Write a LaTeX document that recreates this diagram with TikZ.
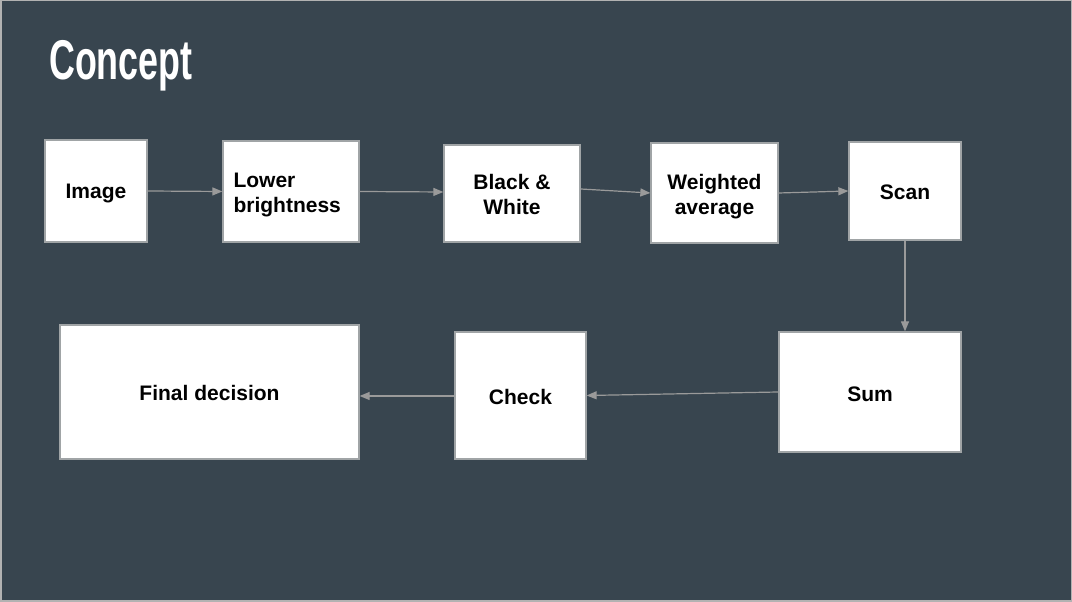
\documentclass[tikz,border=0pt]{standalone}
\usepackage{fontspec}
\setmainfont{Liberation Sans}
\usetikzlibrary{arrows.meta}
\definecolor{bg}{HTML}{38454F}
\definecolor{boxborder}{HTML}{A0A4A6}
\definecolor{arrowgray}{HTML}{9A9A9A}
\begin{document}
\begin{tikzpicture}[x=1pt,y=1pt,
  stepbox/.style={draw=boxborder, line width=1.3pt, fill=white, inner sep=0pt},
  steptext/.style={inner sep=0pt, font=\fontsize{21}{25}\selectfont\bfseries, text=black, align=center},
  flow/.style={draw=arrowgray, line width=1.2pt, -{Triangle[length=10pt,width=8pt]}}]
\fill[bg] (0,0) rectangle (1072,602);
\draw[gray!60, line width=1.5pt] (0.75,0.75) rectangle (1071.25,601.25);
\useasboundingbox (0,0) rectangle (1072,602);
\node[anchor=base west, text=white, font=\fontsize{56}{60}\selectfont\bfseries, inner sep=0pt] (title) at (49,522) {\scalebox{0.64}[1]{Concept}};
\node[stepbox, minimum width=102pt, minimum height=102pt] (img) at (96,411) {};
\node[stepbox, minimum width=136pt, minimum height=101pt] (low) at (291,410.5) {};
\node[stepbox, minimum width=136pt, minimum height=97pt] (bw) at (512,408.5) {};
\node[stepbox, minimum width=127pt, minimum height=100pt] (wa) at (714.5,409) {};
\node[stepbox, minimum width=112pt, minimum height=98pt] (scan) at (905,411) {};
\node[stepbox, minimum width=182pt, minimum height=120pt] (sum) at (870,210) {};
\node[stepbox, minimum width=131pt, minimum height=127pt] (check) at (520.5,206.5) {};
\node[stepbox, minimum width=299pt, minimum height=134pt] (final) at (209.5,210) {};
\node[steptext] (imgt) at ([yshift=-3pt]img.center) {Image};
\node[steptext, align=left, anchor=west] (lowt) at ([xshift=11pt,yshift=-4pt]low.west) {Lower\\brightness};
\node[steptext] (bwt) at ([yshift=-1.5pt]bw.center) {Black \&\\White};
\node[steptext] (wat) at ([yshift=-4pt]wa.center) {Weighted\\average};
\node[steptext] (scant) at ([yshift=-1pt]scan.center) {Scan};
\node[steptext] (sumt) at ([yshift=-2pt]sum.center) {Sum};
\node[steptext] (checkt) at ([yshift=-1pt]check.center) {Check};
\node[steptext] (finalt) at ([yshift=-1pt]final.center) {Final decision};
\draw[flow] (img.east) -- (low.west);
\draw[flow] (low.east) -- ([yshift=1.5pt]bw.west);
\draw[flow] ([yshift=4.5pt]bw.east) -- (wa.west);
\draw[flow] (wa.east) -- (scan.west);
\draw[flow] (scan.south) -- ([xshift=35pt]sum.north);
\draw[flow] (sum.west) -- (check.east);
\draw[flow] ([yshift=-0.5pt]check.west) -- ([yshift=-4pt]final.east);
\end{tikzpicture}
\end{document}
